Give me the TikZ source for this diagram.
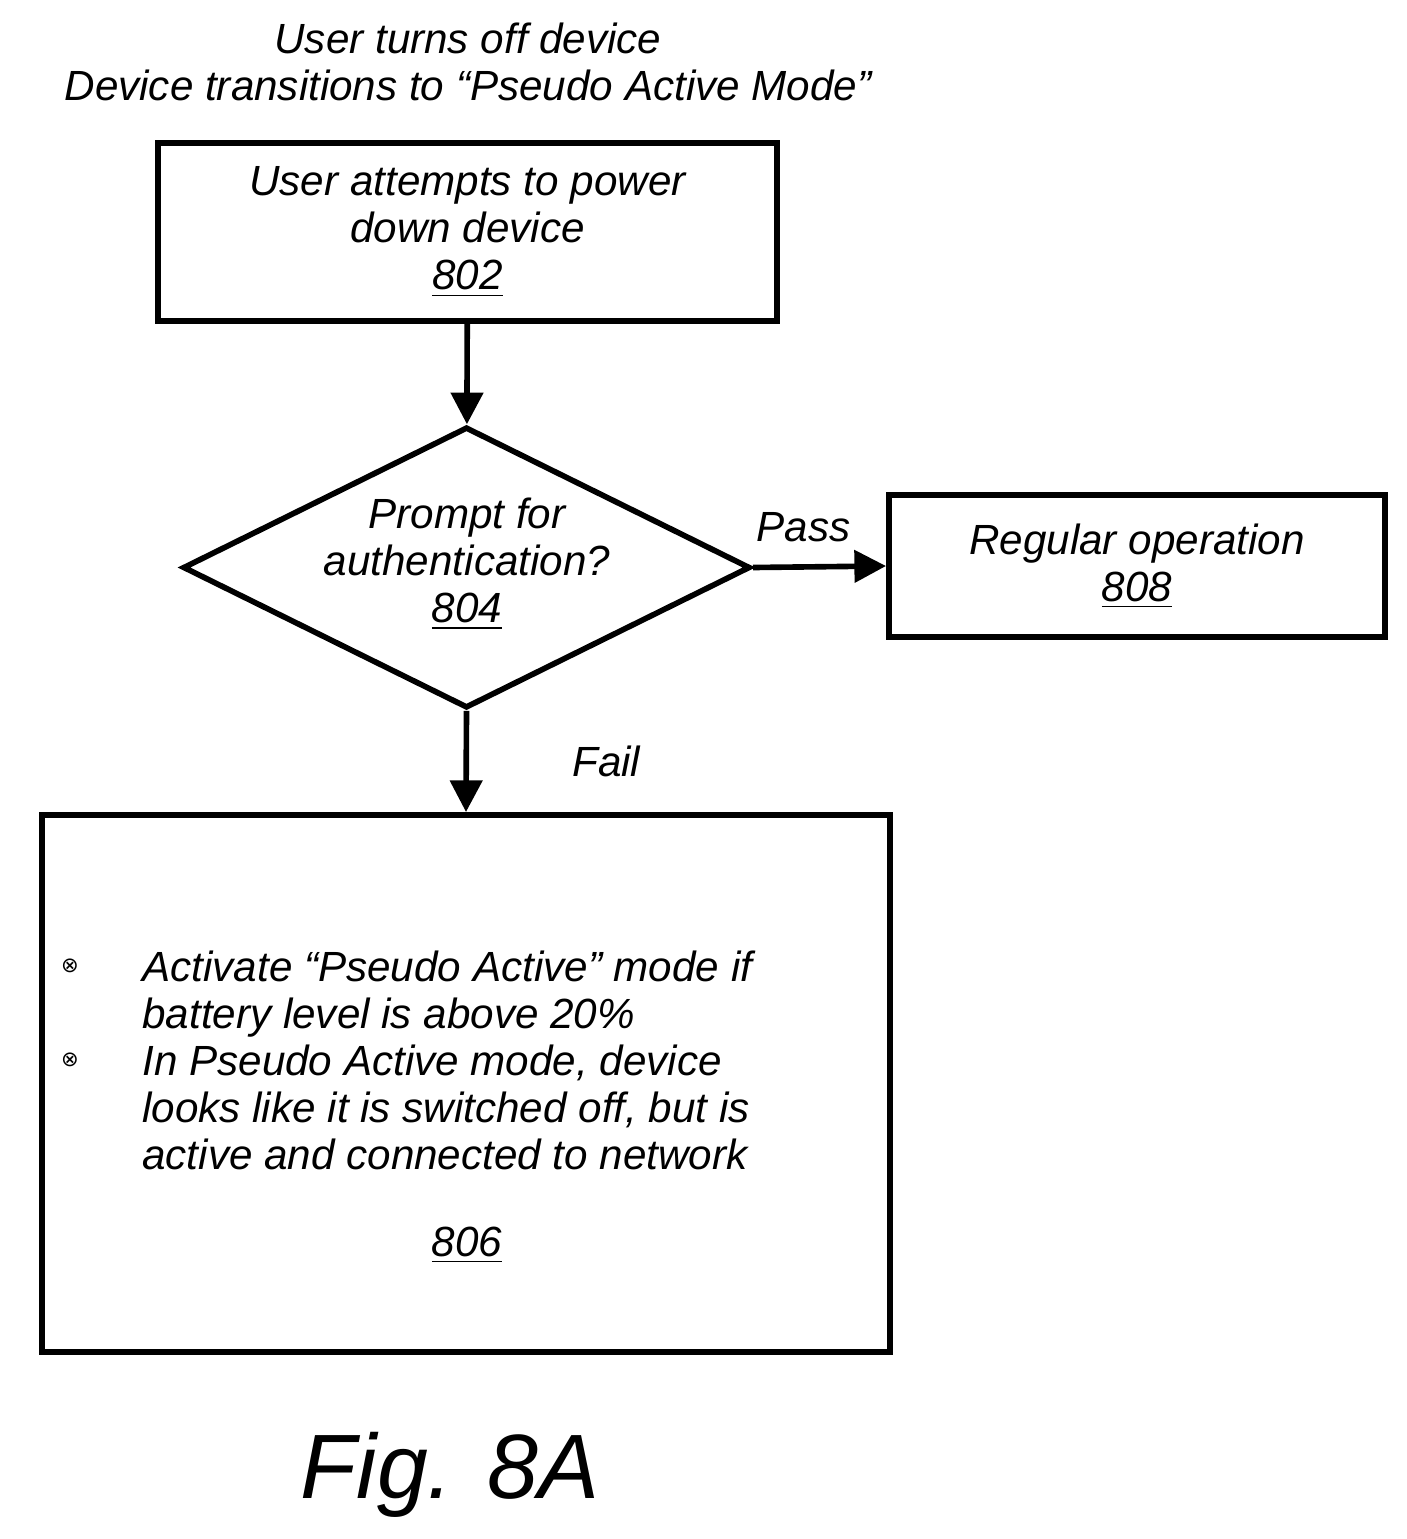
\documentclass[tikz,border=0pt]{standalone}
\usepackage{fontspec}
\setmainfont{Liberation Sans}
\newfontfamily\symfont{DejaVu Sans}
\usetikzlibrary{positioning,shapes.geometric,arrows.meta}
\tikzset{
  box/.style={draw, line width=1.6pt, inner sep=0pt},
  txt/.style={align=center, font=\fontsize{12}{13.4}\selectfont\itshape},
  flow/.style={-{Triangle[length=9pt,width=9pt]}, line width=1.6pt}
}
\newcommand{\bul}{{\symfont\fontsize{6}{6}\selectfont ⊗}}
\begin{document}
\begin{tikzpicture}[x=0.01cm,y=-0.01cm]
    \useasboundingbox (0,0) rectangle (1407,1539);

    % Heading
    \node[txt] (head) at (468,62) {User turns off device\\Device transitions to ``Pseudo Active Mode''};

    % Steps
    \node[box, minimum width=619\pgflinewidth, minimum width=6.19cm, minimum height=1.78cm] (s802) at (467.5,232) {};
    \node[txt] at (s802) {User attempts to power\\down device\\\underline{802}};

    \node[box, diamond, aspect=2.02, minimum width=5.67cm, minimum height=2.81cm] (s804) at (466.5,567.5) {};
    \node[txt] at (467,564) {Prompt for\\authentication?\\\underline{804}};

    \node[box, minimum width=4.96cm, minimum height=1.42cm] (s808) at (1137,566) {};
    \node[txt] at (s808) {Regular operation\\\underline{808}};

    \node[box, minimum width=8.48cm, minimum height=5.37cm] (s806) at (466,1083.5) {};
    \node[txt, align=left, anchor=north west] (list) at (130,938) {Activate ``Pseudo Active'' mode if\\battery level is above 20\%\\In Pseudo Active mode, device\\looks like it is switched off, but is\\active and connected to network};
    \node (b1) at (70,966) {\bul};
    \node (b2) at (70,1060) {\bul};
    \node[txt] (n806) at (467,1245) {\underline{806}};

    % Connectors
    \draw[flow] (s802) -- (s804);
    \draw[flow] (s804.east) -- (s808.west) node[pos=0.38, above=3pt, txt] {Pass};
    \draw[flow] (s804.south) -- (s806.north) node[midway, right=26pt, txt] {Fail};

    \node[font=\fontsize{26}{28}\selectfont\itshape] (fig) at (450,1475) {Fig. 8A};
\end{tikzpicture}
\end{document}
